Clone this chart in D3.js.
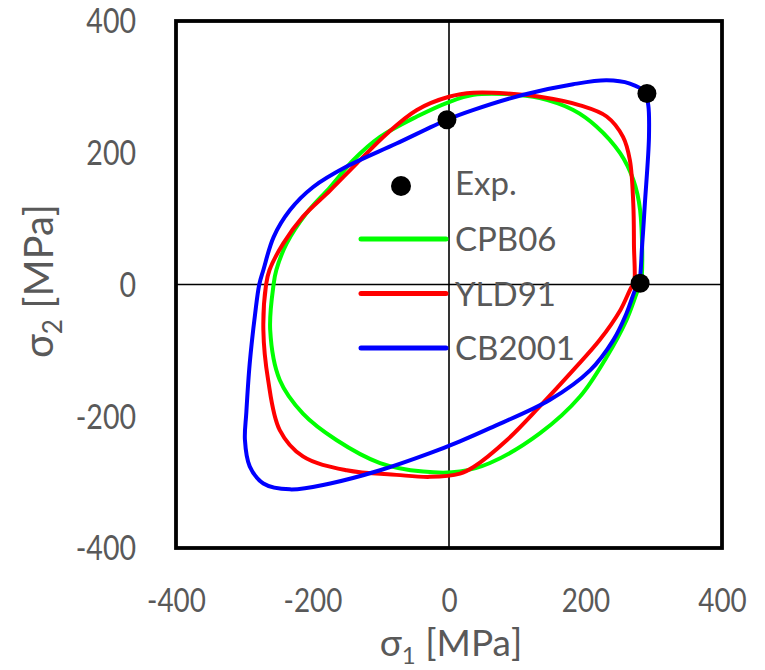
<!DOCTYPE html>
<html>
<head>
<meta charset="utf-8">
<script src="https://cdn.jsdelivr.net/npm/d3@7"></script>
<style>
  html, body { margin: 0; padding: 0; background: #fff; }
  svg { display: block; }
  text { font-family: "Lato", "Liberation Sans", sans-serif; fill: #595959; }
</style>
</head>
<body>
<svg id="chart" width="765" height="670"></svg>
<script>
// ---- data ----
const xTicks = [-400, -200, 0, 200, 400];
const yTicks = [-400, -200, 0, 200, 400];

const expPoints = [[-3, 250], [290, 290], [280, 2]];

const cpb06 = [
  [281, 0], [280, 113], [270, 159], [251, 199], [216, 240], [182, 265], [133, 283],
  [85, 289], [36, 288], [0, 277], [-47, 255], [-101, 224], [-140, 189], [-174, 148],
  [-209, 108], [-238, 62], [-253, 22], [-257, 0], [-262, -69], [-248, -145],
  [-214, -196], [-165, -236], [-101, -271], [-38, -284], [16, -284], [60, -271],
  [133, -226], [192, -170], [231, -110], [260, -54], [277, -8]
];

const yld91 = [
  [271, 0], [271, 60], [270, 123], [265, 189], [255, 224], [231, 255], [192, 272],
  [133, 285], [85, 290], [36, 291], [0, 285], [-47, 265], [-91, 229], [-135, 184],
  [-174, 143], [-214, 103], [-243, 62], [-263, 22], [-268, 0], [-272, -69],
  [-265, -145], [-248, -221], [-214, -261], [-150, -282], [-77, -289], [-28, -292],
  [16, -287], [36, -277], [85, -236], [133, -185], [182, -130], [221, -84],
  [251, -39], [268, -3]
];

const cb2001 = [
  [278, 0], [283, 60], [287, 123], [293, 224], [292, 272], [287, 292], [265, 305],
  [231, 310], [182, 304], [109, 288], [36, 265], [-3, 250], [-77, 214], [-150, 179],
  [-199, 148], [-233, 113], [-257, 72], [-272, 22], [-278, 0], [-284, -44],
  [-292, -120], [-297, -195], [-299, -236], [-292, -276], [-272, -302], [-233, -311],
  [-174, -302], [-101, -282], [-28, -256], [16, -238], [60, -218], [148, -175],
  [207, -130], [241, -84], [260, -44], [275, -3]
];

const seriesNames = ["CPB06", "YLD91", "CB2001"];
const seriesColors = ["#00ff00", "#ff0000", "#0000ff"];
const seriesData = [cpb06, yld91, cb2001];

// ---- layout ----
const svg = d3.select("#chart");
const pLeft = 176, pRight = 722, pTop = 21, pBottom = 548;

const x = d3.scaleLinear().domain([-400, 400]).range([pLeft, pRight]);
const y = d3.scaleLinear().domain([-400, 400]).range([pBottom, pTop]);

// zero lines
svg.append("line").attr("x1", x(0)).attr("x2", x(0)).attr("y1", pTop).attr("y2", pBottom)
  .attr("stroke", "#000").attr("stroke-width", 1.6);
svg.append("line").attr("x1", pLeft).attr("x2", pRight).attr("y1", y(0)).attr("y2", y(0))
  .attr("stroke", "#000").attr("stroke-width", 1.6);

// curves
const line = d3.line().x(d => x(d[0])).y(d => y(d[1])).curve(d3.curveCatmullRomClosed.alpha(0.5));
seriesData.forEach((s, i) => {
  svg.append("path").attr("d", line(s)).attr("fill", "none")
    .attr("stroke", seriesColors[i]).attr("stroke-width", 4).attr("stroke-linejoin", "round");
});

// exp points
svg.selectAll("circle.exp").data(expPoints).enter().append("circle")
  .attr("class", "exp").attr("cx", d => x(d[0])).attr("cy", d => y(d[1])).attr("r", 9.5).attr("fill", "#000");

// frame
svg.append("rect").attr("x", pLeft).attr("y", pTop).attr("width", pRight - pLeft).attr("height", pBottom - pTop)
  .attr("fill", "none").attr("stroke", "#000").attr("stroke-width", 3.8);

// axes (labels only)
const fmt = d => String(d);
const xAxis = d3.axisBottom(x).tickValues(xTicks).tickFormat(fmt).tickSize(0).tickPadding(0);
const gx = svg.append("g").attr("transform", `translate(0,${pBottom + 52})`).call(xAxis);
gx.select(".domain").remove();
gx.selectAll("text").attr("font-size", 32).attr("fill", "#595959").attr("y", 0).attr("dy", "0.36em")
  .attr("transform", "scale(0.87,1)")
  .style("font-family", "Lato, sans-serif");

const yAxis = d3.axisLeft(y).tickValues(yTicks).tickFormat(fmt).tickSize(0).tickPadding(0);
const gy = svg.append("g").attr("transform", `translate(136,1)`).call(yAxis);
gy.select(".domain").remove();
gy.selectAll("text").attr("font-size", 34).attr("fill", "#595959").attr("x", 0)
  .attr("transform", "scale(0.84,1)")
  .style("font-family", "Lato, sans-serif");

// axis titles
const xt = svg.append("text").attr("x", 451).attr("y", 656).attr("text-anchor", "middle").attr("font-size", 37);
xt.append("tspan").text("σ");
xt.append("tspan").text("1").attr("font-size", 24).attr("dy", 8);
xt.append("tspan").text(" [MPa]").attr("dy", -8);

const yt = svg.append("text").attr("transform", "translate(53,281) rotate(-90)").attr("text-anchor", "middle").attr("font-size", 40);
yt.append("tspan").text("σ");
yt.append("tspan").text("2").attr("font-size", 26).attr("dy", 9);
yt.append("tspan").text(" [MPa]").attr("dy", -9);

// legend
const lg = svg.append("g");
lg.append("circle").attr("cx", 401).attr("cy", 186).attr("r", 10).attr("fill", "#000");
lg.append("text").attr("x", 455).attr("y", 195).attr("font-size", 33).text("Exp.");
seriesNames.forEach((n, i) => {
  const yy = 239 + i * 54.5;
  lg.append("line").attr("x1", 361).attr("x2", 446).attr("y1", yy).attr("y2", yy)
    .attr("stroke", seriesColors[i]).attr("stroke-width", 5).attr("stroke-linecap", "round");
  lg.append("text").attr("x", 455).attr("y", yy + 12).attr("font-size", 33).text(n);
});
</script>
</body>
</html>
